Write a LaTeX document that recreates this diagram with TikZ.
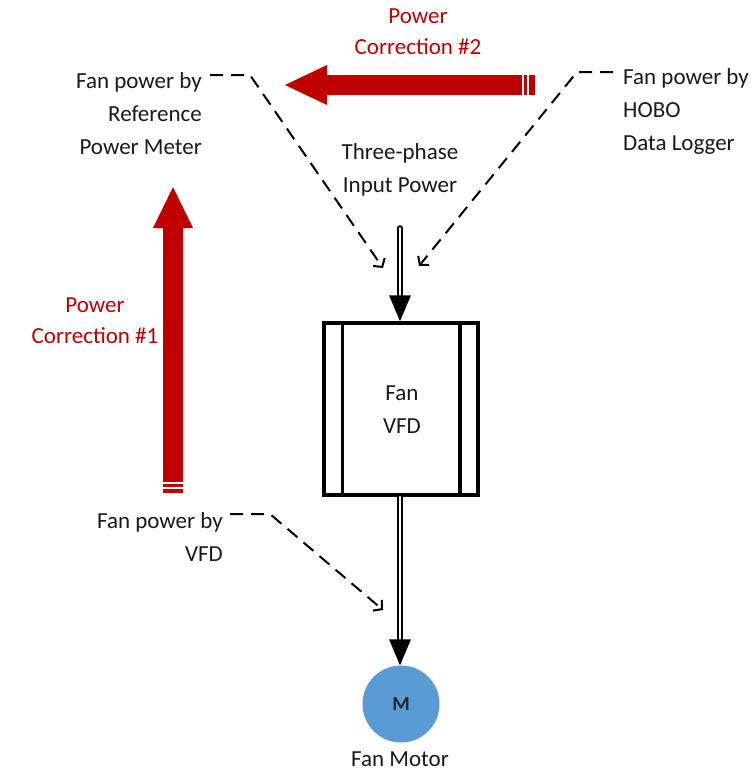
\documentclass[tikz,border=0pt]{standalone}
\usepackage{fontspec}
\setmainfont{Carlito}
\usetikzlibrary{arrows.meta,calc}
\definecolor{pcred}{HTML}{C00000}
\definecolor{motorblue}{HTML}{5B9BD5}
\tikzset{
  lbl/.style={font=\fontsize{23}{33}\selectfont, inner sep=0pt, text=black!90},
  redlbl/.style={font=\fontsize{23}{31}\selectfont, inner sep=0pt, text=pcred, align=center},
  dashcon/.style={line width=2pt, dash pattern=on 13pt off 8pt, -{Straight Barb[length=6pt,width=14pt,line width=2pt]}},
  shaft/.style={line width=2pt, double=white, double distance=1.6pt, line cap=round},
  headtri/.style={fill=black},
  blockarrow/.style={fill=pcred, draw=none},
  stripe/.style={draw=white, line width=1.2pt},
  vfdbox/.style={draw=black, line width=3.5pt},
}
\begin{document}
\begin{tikzpicture}[x=1pt,y=-1pt]
\useasboundingbox (0,0) rectangle (753,774);

% labels
\node[redlbl] (pc2) at (418,32) {Power\\Correction \#2};
\node[redlbl] (pc1) at (95,321) {Power\\Correction \#1};
\node[lbl, align=right, anchor=east] (refpm) at (202,114) {Fan power by\\Reference\\Power Meter};
\node[lbl, align=left, anchor=west] (hobo) at (623,111) {Fan power by\\HOBO\\Data Logger};
\node[lbl, align=center] (inpw) at (400,170) {Three-phase\\Input Power};
\node[lbl, align=right, anchor=east] (vfdl) at (223,537) {Fan power by\\VFD};

% red block arrows
\path[blockarrow] (535,75) -- (327,75) -- (327,65) -- (285,85) -- (327,105) -- (327,95) -- (535,95) -- cycle;
\draw[stripe] (523,75) -- (523,95);
\draw[stripe] (528,75) -- (528,95);
\path[blockarrow] (163,493) -- (163,228) -- (153,228) -- (173,187) -- (193,228) -- (183,228) -- (183,493) -- cycle;
\draw[stripe] (163,483) -- (183,483);
\draw[stripe] (163,488) -- (183,488);

% VFD
\node[vfdbox, minimum width=154pt, minimum height=172pt, inner sep=0pt] (vfd) at (401,409) {};
\draw[vfdbox] ($(vfd.north west)+(20,0)$) -- ($(vfd.south west)+(20,0)$);
\draw[vfdbox] ($(vfd.north east)+(-20,0)$) -- ($(vfd.south east)+(-20,0)$);
\node[lbl, align=center] (vfdt) at (402,410) {Fan\\VFD};

% motor
\node[circle, fill=motorblue, minimum size=77pt, inner sep=0pt] (motor) at (401,704) {};
\node[font=\fontsize{20}{20}\selectfont\bfseries, text=black!85] (mt) at (motor.center) {M};
\node[lbl] (motl) at (400,759) {Fan Motor};

% black connectors
\coordinate (inp) at (400,228);
\coordinate (h1) at ($(vfd.north)+(-1,-26)$);
\draw[shaft] (inp) -- (h1);
\path[headtri] (vfd.north -| h1) -- ++(-11,-26) -- ++(22,0) -- cycle;
\coordinate (h2) at ($(motor.north)+(-1,-26)$);
\draw[shaft] (vfd.south -| h2) -- (h2);
\path[headtri] (motor.north -| h2) -- ++(-11,-26) -- ++(22,0) -- cycle;

% dashed connectors
\coordinate (r0) at (210,75);
\coordinate (r1) at (250,75);
\coordinate (rt) at (383,268);
\draw[dashcon] (r0) -- (r1) -- (rt);
\coordinate (h0) at (613,72);
\coordinate (hc) at (577,72);
\coordinate (ht) at (419,266);
\draw[dashcon] (h0) -- (hc) -- (ht);
\coordinate (v0) at (230,514);
\coordinate (v1) at (270,514);
\coordinate (vt) at (383,610);
\draw[dashcon] (v0) -- (v1) -- (vt);
\end{tikzpicture}
\end{document}
